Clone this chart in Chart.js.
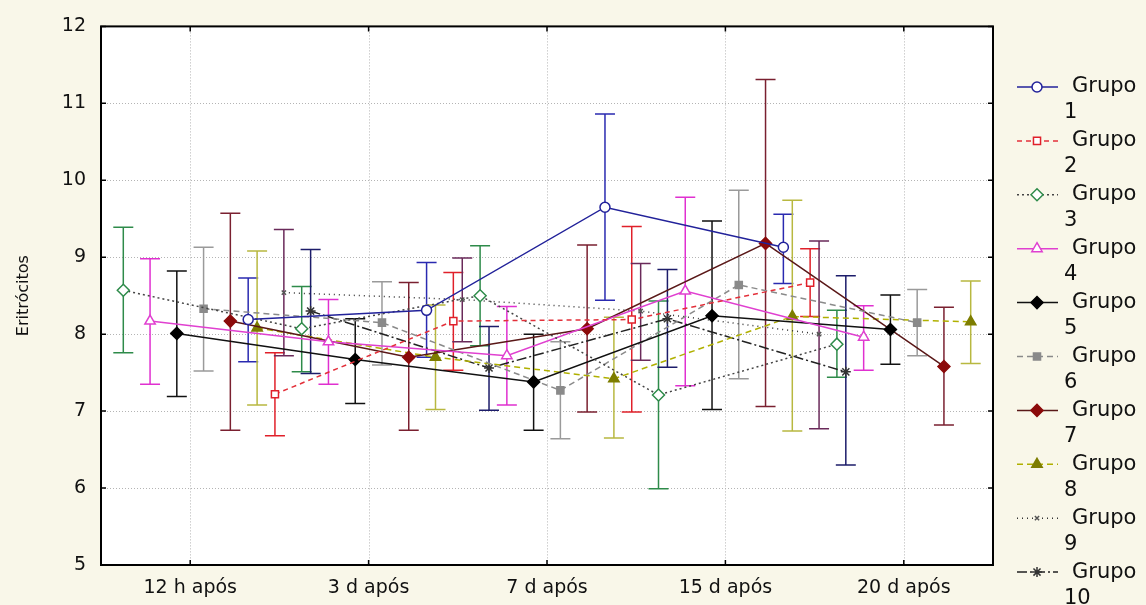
<!DOCTYPE html>
<html>
<head>
<meta charset="utf-8">
<script src="https://cdn.jsdelivr.net/npm/chart.js@4/dist/chart.umd.min.js"></script>
<style>
  html, body { margin: 0; padding: 0; background: #f9f7e9; }
  #grafico { display: block; }
</style>
</head>
<body>
<canvas id="grafico" width="1146" height="605"></canvas>
<script>
// Momentos de coleta
const categorias = ['12 h após', '3 d após', '7 d após', '15 d após', '20 d após'];
const ticksY = [5, 6, 7, 8, 9, 10, 11, 12];

// Médias de eritrócitos por grupo (null = sem ponto visível)
const mediaG1  = [null, 8.19, 8.31, 9.65, 9.13];
const mediaG2  = [null, 7.22, 8.17, 8.19, 8.67];
const mediaG3  = [8.57, 8.07, 8.50, 7.21, 7.87];
const mediaG4  = [8.17, 7.90, 7.72, 8.56, 7.96];
const mediaG5  = [8.01, 7.67, 7.38, 8.24, 8.06];
const mediaG6  = [8.33, 8.15, 7.27, 8.64, 8.15];
const mediaG7  = [8.17, 7.70, 8.07, 9.18, 7.58];
const mediaG8  = [8.08, 7.70, 7.42, 8.23, 8.16];
const mediaG9  = [8.54, 8.45, 8.30, 8.00, null];
const mediaG10 = [8.30, 7.56, 8.20, 7.51, null];

// Limites inferiores das barras de erro
const infG1  = [null, 7.64, 7.70, 8.44, 8.66];
const infG2  = [null, 6.68, 7.53, 6.99, 8.23];
const infG3  = [7.76, 7.51, 7.85, 5.99, 7.44];
const infG4  = [7.35, 7.35, 7.08, 7.33, 7.53];
const infG5  = [7.19, 7.10, 6.75, 7.02, 7.61];
const infG6  = [7.52, 7.60, 6.64, 7.42, 7.72];
const infG7  = [6.75, 6.75, 6.99, 7.06, 6.82];
const infG8  = [7.08, 7.02, 6.65, 6.74, 7.62];
const infG9  = [7.72, 7.90, 7.66, 6.77, null];
const infG10 = [7.49, 7.01, 7.57, 6.30, null];

// Limites superiores das barras de erro
const supG1  = [null, 8.73, 8.93, 10.86, 9.56];
const supG2  = [null, 7.76, 8.80, 9.40, 9.11];
const supG3  = [9.39, 8.62, 9.15, 8.43, 8.31];
const supG4  = [8.98, 8.45, 8.36, 9.78, 8.37];
const supG5  = [8.82, 8.20, 8.00, 9.47, 8.51];
const supG6  = [9.13, 8.68, 7.90, 9.87, 8.58];
const supG7  = [9.57, 8.67, 9.16, 11.31, 8.35];
const supG8  = [9.08, 8.38, 8.22, 9.74, 8.69];
const supG9  = [9.36, 8.99, 8.92, 9.21, null];
const supG10 = [9.10, 8.10, 8.84, 8.76, null];

const medias = [mediaG1, mediaG2, mediaG3, mediaG4, mediaG5, mediaG6, mediaG7, mediaG8, mediaG9, mediaG10];
const inferiores = [infG1, infG2, infG3, infG4, infG5, infG6, infG7, infG8, infG9, infG10];
const superiores = [supG1, supG2, supG3, supG4, supG5, supG6, supG7, supG8, supG9, supG10];

// Aparência de cada grupo
const estilos = [
  { linha: '#22229a', dash: [],            barra: '#2a2ab0', marca: 'circle',   raio: 5, fundo: '#ffffff', borda: '#22229a' },
  { linha: '#e3303a', dash: [5, 4],        barra: '#e0202a', marca: 'rect',     raio: 5, fundo: '#ffffff', borda: '#e0202a' },
  { linha: '#444444', dash: [2, 3],        barra: '#2e8b4a', marca: 'rectRot',  raio: 6, fundo: '#ffffff', borda: '#2e8b4a' },
  { linha: '#e040d0', dash: [],            barra: '#e030d0', marca: 'triangle', raio: 6, fundo: '#ffffff', borda: '#e040d0' },
  { linha: '#111111', dash: [],            barra: '#111111', marca: 'rectRot',  raio: 6, fundo: '#000000', borda: '#000000' },
  { linha: '#8a8a8a', dash: [6, 4],        barra: '#9a9a9a', marca: 'rect',     raio: 5, fundo: '#8a8a8a', borda: '#8a8a8a' },
  { linha: '#5a1818', dash: [],            barra: '#7a2030', marca: 'rectRot',  raio: 6, fundo: '#8b0a0a', borda: '#8b0a0a' },
  { linha: '#b0b000', dash: [6, 4],        barra: '#b8b840', marca: 'triangle', raio: 6, fundo: '#7d7d00', borda: '#7d7d00' },
  { linha: '#333333', dash: [1, 4],        barra: '#6a2a5a', marca: 'crossRot', raio: 3, fundo: '#ffffff', borda: '#555555' },
  { linha: '#222222', dash: [10, 3, 2, 3], barra: '#1c1c6a', marca: 'star',     raio: 5, fundo: '#ffffff', borda: '#333333' }
];

// Deslocamento horizontal de cada grupo dentro da categoria
const passo = 0.15;
const desloc = (g) => (g - 4.5) * passo;

const datasets = medias.map((serie, g) => {
  const e = estilos[g];
  return {
    label: 'Grupo ' + (g + 1),
    data: serie.map((v, k) => ({ x: k + desloc(g), y: v })),
    borderColor: e.linha,
    borderWidth: 1.5,
    borderDash: e.dash,
    pointStyle: e.marca,
    pointRadius: e.raio,
    pointBorderWidth: 1.5,
    pointBackgroundColor: e.fundo,
    pointBorderColor: e.borda,
    spanGaps: false,
    tension: 0
  };
});

const FONTE = "'DejaVu Sans', sans-serif";

const decoracao = {
  id: 'decoracao',
  beforeDraw(chart) {
    const { ctx, chartArea: a } = chart;
    ctx.save();
    ctx.fillStyle = '#f9f7e9';
    ctx.fillRect(0, 0, chart.width, chart.height);
    ctx.fillStyle = '#ffffff';
    ctx.fillRect(a.left, a.top, a.right - a.left, a.bottom - a.top);
    ctx.restore();
  },
  beforeDatasetsDraw(chart) {
    const { ctx, chartArea: a, scales } = chart;
    const sx = scales.x, sy = scales.y;
    ctx.save();
    // grade pontilhada
    ctx.strokeStyle = '#b4b4b4';
    ctx.lineWidth = 1;
    ctx.setLineDash([1, 2]);
    ticksY.forEach(v => {
      if (v === 5 || v === 12) return;
      const y = Math.round(sy.getPixelForValue(v)) + 0.5;
      ctx.beginPath(); ctx.moveTo(a.left, y); ctx.lineTo(a.right, y); ctx.stroke();
    });
    categorias.forEach((c, k) => {
      const x = Math.round(sx.getPixelForValue(k)) + 0.5;
      ctx.beginPath(); ctx.moveTo(x, a.top); ctx.lineTo(x, a.bottom); ctx.stroke();
    });
    ctx.setLineDash([]);
    // barras de erro
    ctx.beginPath();
    ctx.rect(a.left, a.top, a.right - a.left, a.bottom - a.top);
    ctx.clip();
    ctx.lineWidth = 1.5;
    medias.forEach((serie, g) => {
      ctx.strokeStyle = estilos[g].barra;
      serie.forEach((v, k) => {
        if (v === null) return;
        const x = sx.getPixelForValue(k + desloc(g));
        const y1 = sy.getPixelForValue(inferiores[g][k]);
        const y2 = sy.getPixelForValue(superiores[g][k]);
        const w = 10;
        ctx.beginPath();
        ctx.moveTo(x, y1); ctx.lineTo(x, y2);
        ctx.moveTo(x - w, y1); ctx.lineTo(x + w, y1);
        ctx.moveTo(x - w, y2); ctx.lineTo(x + w, y2);
        ctx.stroke();
      });
    });
    ctx.restore();
  },
  afterDatasetsDraw(chart) {
    const { ctx, chartArea: a, scales } = chart;
    const sx = scales.x, sy = scales.y;
    ctx.save();
    ctx.strokeStyle = '#000000';
    ctx.lineWidth = 2;
    ctx.strokeRect(a.left, a.top, a.right - a.left, a.bottom - a.top);
    ctx.lineWidth = 1.5;
    const t = 5;
    ctx.beginPath();
    ticksY.forEach(v => {
      const y = sy.getPixelForValue(v);
      ctx.moveTo(a.left, y); ctx.lineTo(a.left + t, y);
      ctx.moveTo(a.right, y); ctx.lineTo(a.right - t, y);
    });
    categorias.forEach((c, k) => {
      const x = sx.getPixelForValue(k);
      ctx.moveTo(x, a.top); ctx.lineTo(x, a.top + t);
      ctx.moveTo(x, a.bottom); ctx.lineTo(x, a.bottom - t);
    });
    ctx.stroke();
    ctx.restore();
  },
  afterDraw(chart) {
    // legenda à direita
    const ctx = chart.ctx;
    ctx.save();
    const x0 = 1017, x1 = 1058, xm = 1037;
    datasets.forEach((ds, g) => {
      const e = estilos[g];
      const y = 87 + g * 53.9;
      ctx.strokeStyle = e.linha;
      ctx.lineWidth = 1.5;
      ctx.setLineDash(e.dash);
      ctx.beginPath(); ctx.moveTo(x0, y); ctx.lineTo(x1, y); ctx.stroke();
      ctx.setLineDash([]);
      ctx.fillStyle = e.fundo;
      ctx.strokeStyle = e.borda;
      ctx.lineWidth = 1.5;
      Chart.helpers.drawPoint(ctx, { pointStyle: e.marca, radius: e.raio, borderWidth: 1.5, rotation: 0 }, xm, y);
      ctx.fillStyle = '#111111';
      ctx.font = '21px ' + FONTE;
      ctx.textBaseline = 'middle';
      ctx.textAlign = 'left';
      ctx.fillText('Grupo', 1072, y);
      ctx.fillText(String(g + 1), 1064, y + 26);
    });
    ctx.restore();
  }
};

new Chart(document.getElementById('grafico'), {
  type: 'line',
  data: { datasets },
  options: {
    responsive: false,
    animation: false,
    devicePixelRatio: 1,
    layout: { padding: { left: 0, top: 22, right: 153, bottom: 0 } },
    plugins: { legend: { display: false }, tooltip: { enabled: false } },
    scales: {
      x: {
        type: 'linear',
        min: -0.5,
        max: 4.5,
        afterBuildTicks: (s) => { s.ticks = categorias.map((c, k) => ({ value: k })); },
        afterFit: (s) => { s.height = 40; },
        ticks: {
          callback: (v) => categorias[v],
          autoSkip: false,
          maxRotation: 0,
          padding: 12,
          color: '#111111',
          font: { family: FONTE, size: 19 }
        },
        grid: { display: false, drawTicks: false },
        border: { display: false }
      },
      y: {
        min: 5,
        max: 12,
        afterBuildTicks: (s) => { s.ticks = ticksY.map(v => ({ value: v })); },
        afterFit: (s) => { s.width = 101; },
        ticks: {
          padding: 15,
          color: '#111111',
          font: { family: FONTE, size: 19 }
        },
        grid: { display: false, drawTicks: false },
        border: { display: false },
        title: {
          display: true,
          text: 'Eritrócitos',
          color: '#111111',
          font: { family: FONTE, size: 16 },
          padding: { top: 14, bottom: 0 }
        }
      }
    }
  },
  plugins: [decoracao]
});
</script>
</body>
</html>
